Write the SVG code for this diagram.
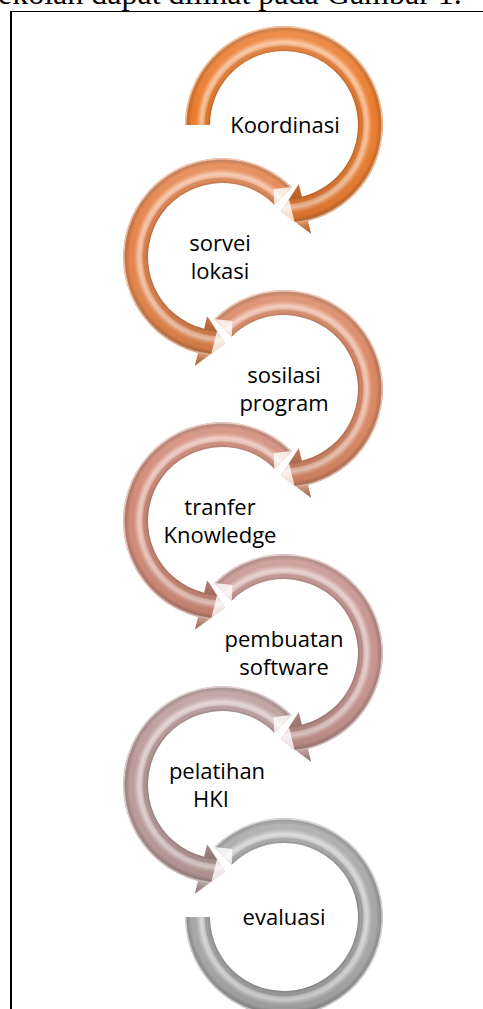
<svg xmlns="http://www.w3.org/2000/svg" width="483" height="1009" viewBox="0 0 483 1009">
<style>
.lbl{font-family:"Open Sans","Noto Sans",sans-serif;font-size:22px;fill:#000;text-anchor:middle}
.cap{font-family:"Liberation Serif","Times New Roman",serif;font-size:32px;fill:#000}
.frame{stroke:#000;fill:none}
.c1{fill:#EE7D2E}
.c2{fill:#E7844A}
.c3{fill:#DE8863}
.c4{fill:#D48B78}
.c5{fill:#C9958F}
.c6{fill:#BD9D9B}
.c7{fill:#A9A9A9}
.tube{fill:url(#tube)}
.vs{fill:url(#vshade)}
.bev{fill:#fff;fill-opacity:.8}
</style>
<defs>
<radialGradient id="tube" gradientUnits="userSpaceOnUse" cx="0" cy="0" r="113">
<stop offset="0.531" stop-color="#000" stop-opacity="0.1"/>
<stop offset="0.655" stop-color="#000" stop-opacity="0.2"/>
<stop offset="0.681" stop-color="#000" stop-opacity="0.05"/>
<stop offset="0.708" stop-color="#fff" stop-opacity="0.35"/>
<stop offset="0.735" stop-color="#fff" stop-opacity="0.55"/>
<stop offset="0.770" stop-color="#fff" stop-opacity="0.1"/>
<stop offset="0.814" stop-color="#000" stop-opacity="0"/>
<stop offset="0.850" stop-color="#000" stop-opacity="0.15"/>
<stop offset="0.867" stop-color="#fff" stop-opacity="0.55"/>
<stop offset="0.876" stop-color="#fff" stop-opacity="0.3"/>
<stop offset="1" stop-color="#000" stop-opacity="0.15"/>
</radialGradient>
<linearGradient id="vshade" gradientUnits="userSpaceOnUse" x1="0" y1="-99" x2="0" y2="112">
<stop offset="0" stop-color="#fff" stop-opacity="0.15"/>
<stop offset="0.4" stop-color="#fff" stop-opacity="0"/>
<stop offset="1" stop-color="#000" stop-opacity="0.12"/>
</linearGradient>
<path id="arcFirst" d="M-99 0A99 99 0 1 1 23.95 96.06L27.1 108.67L-3.02 86.45L14.76 59.19L17.9 71.8A74 74 0 1 0 -74 0Z"/>
<path id="arcMid" d="M-70 -70A99 99 0 1 1 23.95 96.06L27.1 108.67L-3.02 86.45L14.76 59.19L17.9 71.8A74 74 0 1 0 -52.33 -52.33Z"/>
<path id="arcLast" d="M-70 -70A99 99 0 1 1 -99 0L-74 0A74 74 0 1 0 -52.33 -52.33Z"/>
<polygon id="tipBev" points="-3.02,86.45 4.98,74.18 10.53,96.45"/>
<polygon id="tailBev" points="-70,-70 -51.5,-68 -52.33,-52.33"/>
</defs>

<text class="cap" x="-2" y="4">ekolah dapat dilihat pada Gambar 1.</text>
<path class="frame" stroke-width="1" d="M10 11.5H483"/>
<path class="frame" stroke-width="2" d="M11 11V1009"/>

<g id="connectors"></g>

<g id="step1" transform="translate(284,125)">
<use href="#arcFirst" class="c1"/><use href="#arcFirst" class="tube"/><use href="#arcFirst" class="vs"/>
<use href="#tipBev" class="bev"/>
<text class="lbl" x="1" y="8">Koordinasi</text>
</g>

<g id="step2" transform="translate(222,257)">
<g transform="scale(-1,1)">
<use href="#arcMid" class="c2"/><use href="#arcMid" class="tube"/><use href="#arcMid" class="vs"/>
<use href="#tipBev" class="bev"/><use href="#tailBev" class="bev"/>
</g>
<text class="lbl" x="-2" y="-6">sorvei</text>
<text class="lbl" x="-2" y="22">lokasi</text>
</g>

<g id="step3" transform="translate(284,389)">
<use href="#arcMid" class="c3"/><use href="#arcMid" class="tube"/><use href="#arcMid" class="vs"/>
<use href="#tipBev" class="bev"/><use href="#tailBev" class="bev"/>
<text class="lbl" x="0" y="-6">sosilasi</text>
<text class="lbl" x="0" y="22">program</text>
</g>

<g id="step4" transform="translate(222,521)">
<g transform="scale(-1,1)">
<use href="#arcMid" class="c4"/><use href="#arcMid" class="tube"/><use href="#arcMid" class="vs"/>
<use href="#tipBev" class="bev"/><use href="#tailBev" class="bev"/>
</g>
<text class="lbl" x="-2" y="-6">tranfer</text>
<text class="lbl" x="-2" y="22">Knowledge</text>
</g>

<g id="step5" transform="translate(284,653)">
<use href="#arcMid" class="c5"/><use href="#arcMid" class="tube"/><use href="#arcMid" class="vs"/>
<use href="#tipBev" class="bev"/><use href="#tailBev" class="bev"/>
<text class="lbl" x="0" y="-6">pembuatan</text>
<text class="lbl" x="0" y="22">software</text>
</g>

<g id="step6" transform="translate(222,785)">
<g transform="scale(-1,1)">
<use href="#arcMid" class="c6"/><use href="#arcMid" class="tube"/><use href="#arcMid" class="vs"/>
<use href="#tipBev" class="bev"/><use href="#tailBev" class="bev"/>
</g>
<text class="lbl" x="-5" y="-6">pelatihan</text>
<text class="lbl" x="-11" y="22">HKI</text>
</g>

<g id="step7" transform="translate(284,917)">
<use href="#arcLast" class="c7"/><use href="#arcLast" class="tube"/><use href="#arcLast" class="vs"/>
<use href="#tailBev" class="bev"/>
<text class="lbl" x="0" y="8">evaluasi</text>
</g>
</svg>
